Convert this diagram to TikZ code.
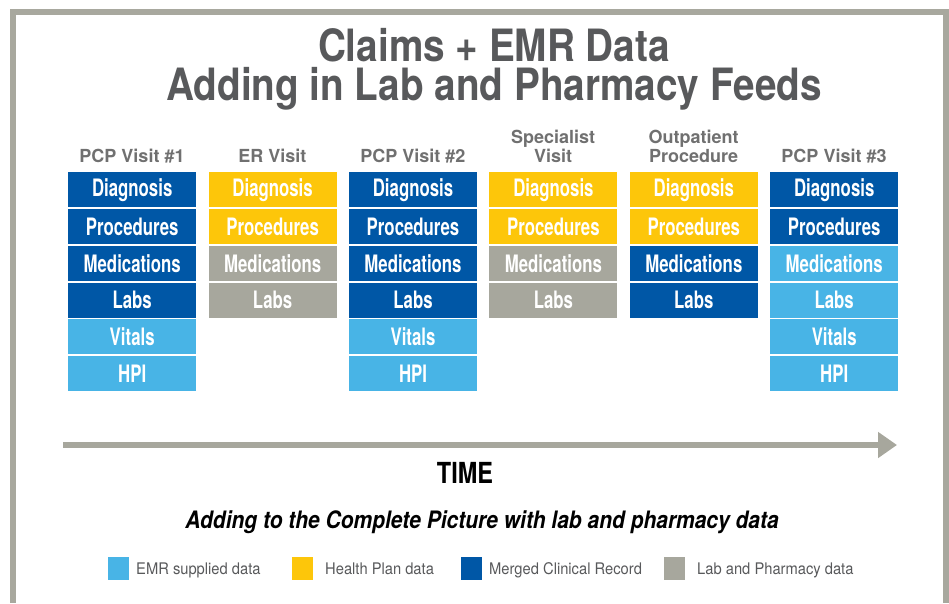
\documentclass[tikz,border=0pt]{standalone}
\usepackage{fontspec}
\setmainfont{TeX Gyre Heros}
\newfontfamily\cellfont[FakeStretch=0.7]{TeX Gyre Heros}
\newfontfamily\titlefont[FakeStretch=0.87]{TeX Gyre Heros}
\newfontfamily\timefont[FakeStretch=0.81]{TeX Gyre Heros}
\newfontfamily\subfont[FakeStretch=0.875]{TeX Gyre Heros}
\newfontfamily\legfont[FakeStretch=0.92]{TeX Gyre Heros}
\usetikzlibrary{arrows.meta}
\definecolor{dblue}{RGB}{0,87,166}
\definecolor{lblue}{RGB}{72,180,230}
\definecolor{hyellow}{RGB}{253,198,10}
\definecolor{lgray}{RGB}{167,167,157}
\definecolor{framegray}{RGB}{168,168,158}
\definecolor{headgray}{RGB}{112,112,112}
\definecolor{titlegray}{RGB}{88,89,91}
\begin{document}
\begin{tikzpicture}[x=1pt,y=-1pt,
  cellbox/.style={minimum width=128pt,minimum height=35pt,inner sep=0pt,anchor=north west,
    text=white,font=\cellfont\bfseries\fontsize{24}{26}\selectfont},
  colhead/.style={anchor=south,inner sep=0pt,align=center,text=headgray,
    font=\bfseries\fontsize{18}{19}\selectfont},
  titletext/.style={inner sep=0pt,align=center,text=titlegray,font=\titlefont\bfseries\fontsize{44.5}{38.5}\selectfont},
  legsq/.style={minimum width=21pt,minimum height=23pt,inner sep=0pt,anchor=north west},
  legtext/.style={anchor=base west,inner sep=0pt,text=titlegray,font=\legfont\fontsize{16}{18}\selectfont}
]
\useasboundingbox (0,0) rectangle (949,603);
% frame
\draw[framegray,line width=6pt] (13,603) -- (13,12) -- (945.5,12) -- (945.5,603);
% title (two lines, set tightly as in the reference)
\node[titletext,anchor=base] (title) at (494,100) {Claims + EMR Data\\Adding in Lab and Pharmacy Feeds};
% column headers
\node[colhead] (h1) at (132,163) {PCP Visit \#1};
\node[colhead] (h2) at (272.4,163) {ER Visit};
\node[colhead] (h3) at (412.8,163) {PCP Visit \#2};
\node[colhead] (h4) at (553.2,163) {Specialist\\Visit};
\node[colhead] (h5) at (693.6,163) {Outpatient\\Procedure};
\node[colhead] (h6) at (834,163) {PCP Visit \#3};
% cells
\foreach \j/\cols in {0/{dblue,dblue,dblue,dblue,lblue,lblue},
                      1/{hyellow,hyellow,lgray,lgray},
                      2/{dblue,dblue,dblue,dblue,lblue,lblue},
                      3/{hyellow,hyellow,lgray,lgray},
                      4/{hyellow,hyellow,dblue,dblue},
                      5/{dblue,dblue,lblue,lblue,lblue,lblue}}{
  \foreach \c [count=\i from 0] in \cols {
    \pgfmathsetmacro{\xx}{68+140.4*\j}
    \pgfmathsetmacro{\yy}{172+36.8*\i}
    \ifcase\i \def\lab{Diagnosis}\or\def\lab{Procedures}\or\def\lab{Medications}\or\def\lab{Labs}\or\def\lab{Vitals}\or\def\lab{HPI}\fi
    \node[cellbox,fill=\c] (c\j-\i) at (\xx,\yy) {\lab};
  }
}
% time arrow
\coordinate (tstart) at (63,445);
\coordinate (tend) at (897,445);
\draw[lgray,line width=6pt,-{Triangle[length=19pt,width=25pt]}] (tstart) -- (tend);
\node[anchor=base,inner sep=0pt,font=\timefont\bfseries\fontsize{29}{30}\selectfont] (time) at (465,483) {TIME};
\node[anchor=base,inner sep=0pt,font=\subfont\bfseries\itshape\fontsize{24}{26}\selectfont] (sub) at (482,528) {Adding to the Complete Picture with lab and pharmacy data};
% legend
\node[legsq,fill=lblue] (l1) at (108,557) {};
\node[legtext] (lt1) at (136,574.5) {EMR supplied data};
\node[legsq,fill=hyellow] (l2) at (292,557) {};
\node[legtext] (lt2) at (325,574.5) {Health Plan data};
\node[legsq,fill=dblue] (l3) at (461,557) {};
\node[legtext] (lt3) at (489,574.5) {Merged Clinical Record};
\node[legsq,fill=lgray] (l4) at (664,557) {};
\node[legtext] (lt4) at (697,574.5) {Lab and Pharmacy data};
\end{tikzpicture}
\end{document}
